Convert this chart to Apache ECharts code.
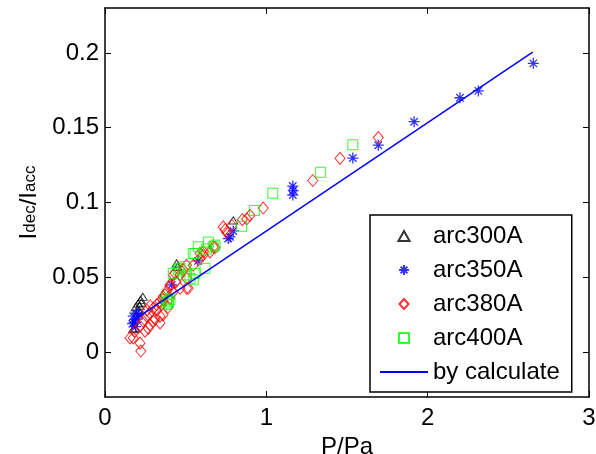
<!DOCTYPE html>
<html><head><meta charset="utf-8">
<script src="https://cdn.jsdelivr.net/npm/echarts@6/dist/echarts.min.js"></script>
<style>html,body{margin:0;padding:0;background:#fff}#c{width:596px;height:454px}</style>
</head><body><div id="c"></div>
<script>
const seriesNames = ['arc300A', 'arc350A', 'arc380A', 'arc400A', 'by calculate'];
const xTicks = [0, 1, 2, 3];
const yTicks = [0, 0.05, 0.1, 0.15, 0.2];

const arc300A = [
  [0.174,0.0153],[0.186,0.016],[0.19,0.030],[0.205,0.0325],[0.221,0.035],[0.234,0.037],
  [0.21,0.028],[0.225,0.033],[0.215,0.031],[0.444,0.0593],[0.45,0.057],[0.795,0.088]
];
const arc350A = [
  [2.655,0.193],[2.314,0.1746],[2.20,0.170],[1.916,0.154],[1.694,0.1383],[1.536,0.1297],
  [1.164,0.111],[1.167,0.108],[1.164,0.105],[0.795,0.081],[0.764,0.0759],[0.775,0.077],
  [0.577,0.061],[0.413,0.045],[0.175,0.024],[0.196,0.026],[0.18,0.020],[0.19,0.017],
  [0.20,0.022],[0.21,0.025],[0.17,0.019]
];
const arc380A = [
  [1.694,0.1434],[1.457,0.1295],[1.288,0.1147],[0.981,0.0963],[0.899,0.0914],[0.878,0.089],
  [0.851,0.0885],[0.785,0.0848],[0.754,0.080],[0.733,0.0837],[0.745,0.082],[0.682,0.070],
  [0.671,0.0704],[0.651,0.067],[0.61,0.067],[0.609,0.065],[0.589,0.066],[0.589,0.0626],
  [0.547,0.058],[0.506,0.058],[0.485,0.055],[0.465,0.0516],[0.434,0.0527],[0.423,0.0516],
  [0.506,0.0493],[0.516,0.0427],[0.506,0.0427],[0.465,0.0427],[0.403,0.045],[0.403,0.0438],
  [0.382,0.0405],[0.372,0.0383],[0.361,0.037],[0.361,0.035],[0.351,0.0317],[0.341,0.0339],
  [0.32,0.0317],[0.30,0.0294],[0.279,0.026],[0.258,0.024],[0.237,0.0206],[0.217,0.0173],
  [0.186,0.014],[0.155,0.0095],[0.175,0.0095],[0.217,0.006],[0.222,0.0007],[0.341,0.0195],
  [0.341,0.024],[0.30,0.0206],[0.268,0.016],[0.248,0.014],[0.279,0.0184],[0.32,0.028],
  [0.28,0.031],[0.26,0.028],[0.40,0.036],[0.42,0.040],[0.44,0.047],[0.39,0.030],
  [0.36,0.025],[0.31,0.022]
];
const arc400A = [
  [1.536,0.1386],[1.337,0.1202],[1.04,0.1062],[0.926,0.0947],[0.847,0.0841],[0.641,0.0735],
  [0.682,0.0715],[0.671,0.0704],[0.63,0.069],[0.62,0.056],[0.547,0.0659],[0.578,0.0704],
  [0.496,0.0571],[0.454,0.0549],[0.506,0.0516],[0.558,0.0527],[0.547,0.0483],[0.465,0.056],
  [0.423,0.0527],[0.527,0.0493],[0.403,0.035],[0.392,0.0327],[0.382,0.036],[0.382,0.0317],
  [0.392,0.034],[0.558,0.066]
];
const byCalculate = [[0.166,0.0206],[2.651,0.2005]];

const FONT = 'Liberation Sans, Arial, sans-serif';
const FS = 24;
const asterisk = 'path://M5 0L5 10M0 5L10 5M1.6 1.6L8.4 8.4M1.6 8.4L8.4 1.6';
const triangle = 'path://M5 0L10 9L0 9Z';
const diamond = 'path://M5 0L10 5.5L5 11L0 5.5Z';
const square = 'path://M0 0L10 0L10 10L0 10Z';

const axisLineStyle = {show: true, onZero: false, lineStyle: {color: '#000', width: 1.5}};
const tickStyle = {show: true, inside: true, length: 6, lineStyle: {color: '#000', width: 1}};

const chart = echarts.init(document.getElementById('c'), null, {renderer: 'canvas'});
chart.setOption({
  animation: false,
  backgroundColor: '#fff',
  textStyle: {fontFamily: FONT},
  grid: {left: 105, right: 7, top: 8, bottom: 57, containLabel: false, outerBoundsMode: 'none'},
  xAxis: [{
    type: 'value', min: 0, max: 3, interval: 1, position: 'bottom',
    axisLine: axisLineStyle, axisTick: tickStyle, splitLine: {show: false},
    axisLabel: {fontSize: FS, color: '#000', fontFamily: FONT, margin: 9},
    name: 'P/Pa', nameLocation: 'middle', nameGap: 28,
    nameTextStyle: {fontSize: FS, color: '#000', fontFamily: FONT}
  }, {
    type: 'value', min: 0, max: 3, interval: 1, position: 'top',
    axisLine: axisLineStyle, axisTick: tickStyle, splitLine: {show: false},
    axisLabel: {show: false}
  }],
  yAxis: [{
    type: 'value', min: -0.03, max: 0.23, position: 'left',
    axisLine: axisLineStyle,
    axisTick: Object.assign({}, tickStyle, {customValues: yTicks}),
    splitLine: {show: false},
    axisLabel: {fontSize: FS, color: '#000', fontFamily: FONT, margin: 6,
      customValues: yTicks, formatter: v => String(+v.toFixed(2))},
    name: '{m|I}{s|dec}{m|/I}{s|acc}', nameLocation: 'middle', nameGap: 66,
    nameTextStyle: {color: '#000', fontFamily: FONT, rich: {
      m: {fontSize: FS, lineHeight: 22, verticalAlign: 'top', color: '#000', fontFamily: FONT},
      s: {fontSize: 17, lineHeight: 16, padding: [19, 0, 0, 0], verticalAlign: 'bottom', color: '#000', fontFamily: FONT}
    }}
  }, {
    type: 'value', min: -0.03, max: 0.23, position: 'right',
    axisLine: axisLineStyle,
    axisTick: Object.assign({}, tickStyle, {customValues: yTicks}),
    splitLine: {show: false},
    axisLabel: {show: false}
  }],
  legend: {
    orient: 'vertical', left: 370, top: 215,
    padding: [9, 12, 8, 9],
    borderColor: '#000', borderWidth: 1.5, backgroundColor: '#fff',
    itemWidth: 48, itemHeight: 10, itemGap: 10,
    symbolKeepAspect: true,
    textStyle: {fontSize: FS, color: '#000', fontFamily: FONT, lineHeight: 22},
    data: seriesNames
  },
  series: [{
    name: seriesNames[0], type: 'scatter', data: arc300A,
    symbol: triangle, symbolSize: [9, 8], symbolKeepAspect: true,
    itemStyle: {color: 'rgba(0,0,0,0)', borderColor: '#000', borderWidth: 1}
  }, {
    name: seriesNames[1], type: 'scatter', data: arc350A,
    symbol: asterisk, symbolSize: 11, symbolKeepAspect: true,
    itemStyle: {color: 'rgba(0,0,255,0)', borderColor: '#0000ff', borderWidth: 1.3}
  }, {
    name: seriesNames[2], type: 'scatter', data: arc380A,
    symbol: diamond, symbolSize: [11, 12], symbolKeepAspect: true,
    itemStyle: {color: 'rgba(255,0,0,0)', borderColor: '#ff0000', borderWidth: 1}
  }, {
    name: seriesNames[3], type: 'scatter', data: arc400A,
    symbol: square, symbolSize: 10, symbolKeepAspect: true,
    itemStyle: {color: 'rgba(0,255,0,0)', borderColor: '#00ff00', borderWidth: 1}
  }, {
    name: seriesNames[4], type: 'line', data: byCalculate,
    symbol: 'none', showSymbol: false,
    lineStyle: {color: '#0000ff', width: 1.5},
    itemStyle: {color: 'rgba(0,0,0,0)', borderWidth: 0}
  }]
});
</script>
</body></html>
